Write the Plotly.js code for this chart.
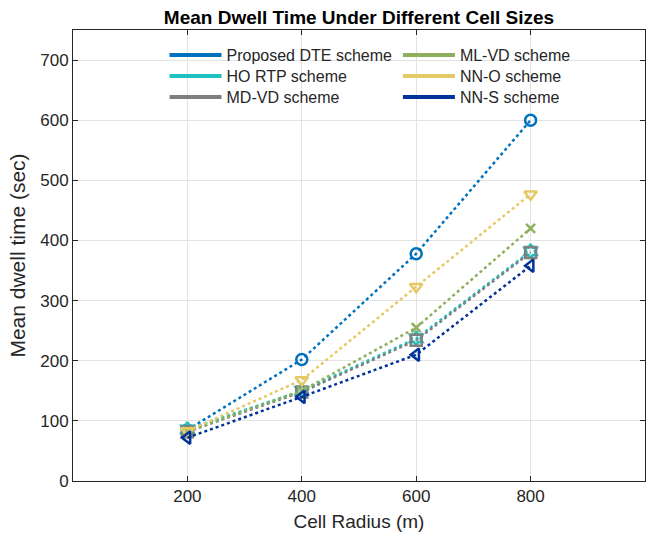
<!DOCTYPE html>
<html><head><meta charset="utf-8">
<script src="https://cdn.plot.ly/plotly-3.0.1.min.js"></script>
<style>html,body{margin:0;padding:0;background:#fff}#chart{width:656px;height:541px}</style>
</head><body><div id="chart"></div>
<script>
var cellRadius = [200, 400, 600, 800];
var seriesNames = ['Proposed DTE scheme', 'HO RTP scheme', 'MD-VD scheme', 'ML-VD scheme', 'NN-O scheme', 'NN-S scheme'];
var dteValues  = [85, 202, 378, 600];
var horValues  = [86, 150, 237, 382];
var mdvdValues = [82, 148, 234, 380];
var mlvdValues = [83, 150, 255, 420];
var nnoValues  = [83, 168, 323, 477];
var nnsValues  = [72, 140, 210, 358];
var seriesValues = [dteValues, horValues, mdvdValues, mlvdValues, nnoValues, nnsValues];
var colors  = ['#0072BD', '#1EC2C0', '#7F7F7F', '#8FAF5C', '#E5C965', '#00339A'];
var symbols = ['circle-open', 'hexagram-open', 'square-open', 'x-thin-open', 'triangle-down-open', 'triangle-left-open'];
var legendIds = ['legend', 'legend2', 'legend3', 'legend4', 'legend5', 'legend6'];
var xTicks = [200, 400, 600, 800];
var yTicks = [0, 100, 200, 300, 400, 500, 600, 700];
var FONT = 'Liberation Sans';

var traces = [];
for (var i = 0; i < seriesNames.length; i++) {
  traces.push({
    x: cellRadius, y: seriesValues[i], type: 'scatter', mode: 'lines+markers',
    name: seriesNames[i], showlegend: false,
    line: {color: colors[i], width: 2.5, dash: 'dot'},
    marker: {symbol: symbols[i], size: symbols[i]==='x-thin-open' ? 9 : 11, color: colors[i], line: {color: colors[i], width: 2.5}}
  });
}
for (var j = 0; j < seriesNames.length; j++) {
  traces.push({
    x: [null], y: [null], type: 'scatter', mode: 'lines', name: seriesNames[j],
    legend: legendIds[j], showlegend: true, hoverinfo: 'skip',
    line: {color: colors[j], width: 4}
  });
}
var axisCommon = {
  showline: true, linecolor: '#262626', linewidth: 1, mirror: 'ticks',
  ticks: 'inside', ticklen: 5, tickcolor: '#262626',
  showgrid: true, gridcolor: '#E3E3E3', gridwidth: 1, zeroline: false,
  tickfont: {family: FONT, size: 17, color: '#262626'}
};
function legendAt(xp, yp) {
  return {orientation: 'v', x: xp, xanchor: 'left', y: yp, yanchor: 'middle',
    bgcolor: 'rgba(0,0,0,0)', borderwidth: 0, itemwidth: 52,
    font: {family: FONT, size: 16, color: '#262626'}};
}
var layout = {
  width: 656, height: 541,
  margin: {l: 73, r: 11, t: 30, b: 60},
  paper_bgcolor: '#fff', plot_bgcolor: '#fff',
  font: {family: FONT, color: '#262626'},
  title: {text: '<b>Mean Dwell Time Under Different Cell Sizes</b>', xref: 'paper', x: 0.5, xanchor: 'center',
          yref: 'container', y: 0.968, yanchor: 'middle',
          font: {family: FONT, size: 19, color: '#000'}},
  xaxis: Object.assign({}, axisCommon, {range: [0, 1000], tickvals: xTicks,
          title: {text: 'Cell Radius (m)', font: {family: FONT, size: 19, color: '#262626'}, standoff: 9}}),
  yaxis: Object.assign({}, axisCommon, {range: [0, 750], tickvals: yTicks,
          title: {text: 'Mean dwell time (sec)', font: {family: FONT, size: 21, color: '#262626'}, standoff: 8}}),
  showlegend: true,
  legend:  legendAt(0.16, 0.9446),
  legend2: legendAt(0.16, 0.898),
  legend3: legendAt(0.16, 0.8514),
  legend4: legendAt(0.568, 0.9446),
  legend5: legendAt(0.568, 0.898),
  legend6: legendAt(0.568, 0.8514)
};
Plotly.newPlot('chart', traces, layout, {staticPlot: true, displayModeBar: false});
</script></body></html>
